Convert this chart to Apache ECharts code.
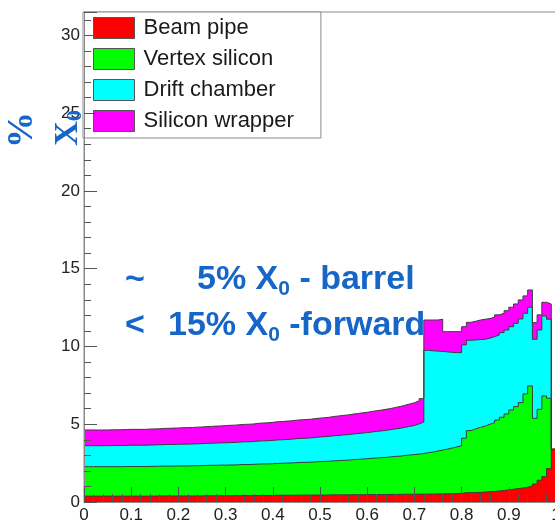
<!DOCTYPE html>
<html><head><meta charset="utf-8">
<script src="https://cdn.jsdelivr.net/npm/echarts@6/dist/echarts.min.js"></script>
<style>html,body{margin:0;padding:0;background:#fff}#c{width:555px;height:525px}</style>
</head><body><div id="c"></div>
<script>
// 100 bins of |cos(theta)|, width 0.01, from 0 to 1
const binWidth = 0.01;
const xMin = 0, xMax = 1, xInterval = 0.1;
const yMin = 0, yMax = 31.5, yInterval = 5;
const seriesNames = ['Beam pipe', 'Vertex silicon', 'Drift chamber', 'Silicon wrapper'];
const seriesColors = ['#ff0000', '#00ff00', '#00ffff', '#ff00ff'];

const beamPipe = [
  0.38,0.38,0.38,0.38,0.38,0.38,0.38,0.38,0.38,0.38,
  0.38,0.38,0.38,0.38,0.38,0.39,0.39,0.39,0.39,0.39,
  0.39,0.39,0.39,0.39,0.39,0.40,0.40,0.40,0.40,0.40,
  0.40,0.40,0.41,0.41,0.41,0.41,0.42,0.42,0.42,0.42,
  0.43,0.43,0.43,0.43,0.44,0.44,0.44,0.44,0.45,0.45,
  0.45,0.45,0.46,0.46,0.46,0.46,0.47,0.47,0.47,0.47,
  0.48,0.48,0.48,0.48,0.49,0.49,0.49,0.50,0.50,0.50,
  0.50,0.51,0.51,0.51,0.52,0.52,0.53,0.53,0.54,0.55,
  0.60,0.60,0.61,0.62,0.64,0.66,0.68,0.71,0.74,0.78,
  0.82,0.86,0.90,0.95,1.03,1.16,1.40,1.63,2.15,3.39
];
const vertexSilicon = [
  1.89,1.89,1.89,1.89,1.89,1.89,1.89,1.89,1.90,1.90,
  1.90,1.90,1.90,1.91,1.91,1.91,1.92,1.92,1.92,1.93,
  1.93,1.93,1.94,1.94,1.95,1.95,1.96,1.96,1.97,1.97,
  1.98,1.98,1.99,2.00,2.00,2.01,2.02,2.03,2.03,2.04,
  2.05,2.06,2.07,2.08,2.09,2.10,2.11,2.12,2.13,2.15,
  2.16,2.17,2.19,2.20,2.22,2.23,2.25,2.27,2.29,2.31,
  2.33,2.35,2.37,2.39,2.41,2.44,2.46,2.49,2.52,2.55,
  2.58,2.61,2.66,2.71,2.76,2.82,2.87,2.94,3.00,3.07,
  3.50,3.99,4.09,4.18,4.24,4.34,4.42,4.56,4.71,4.88,
  5.10,5.27,5.49,6.00,6.43,4.22,4.56,5.19,4.52,0
];
const driftChamber = [
  1.35,1.35,1.35,1.35,1.35,1.36,1.36,1.36,1.36,1.37,
  1.37,1.37,1.37,1.37,1.38,1.38,1.38,1.39,1.39,1.39,
  1.40,1.40,1.40,1.41,1.41,1.42,1.42,1.43,1.43,1.44,
  1.44,1.45,1.45,1.46,1.46,1.47,1.48,1.48,1.49,1.50,
  1.51,1.51,1.52,1.53,1.54,1.55,1.55,1.56,1.57,1.58,
  1.59,1.60,1.61,1.62,1.63,1.64,1.65,1.66,1.67,1.68,
  1.69,1.71,1.72,1.74,1.75,1.77,1.79,1.81,1.84,1.87,
  1.94,2.02,6.58,6.50,6.42,6.34,6.25,6.15,6.06,5.98,
  6.00,5.81,5.72,5.64,5.58,5.53,5.53,5.47,5.44,5.40,
  5.35,5.36,5.38,5.18,5.06,5.08,5.10,5.14,5.08,0
];
const siliconWrapper = [
  1.01,1.01,1.01,1.01,1.01,1.01,1.01,1.02,1.02,1.02,
  1.02,1.02,1.02,1.03,1.03,1.03,1.04,1.04,1.05,1.05,
  1.06,1.06,1.06,1.07,1.07,1.08,1.08,1.09,1.09,1.10,
  1.11,1.11,1.12,1.12,1.13,1.13,1.14,1.15,1.15,1.16,
  1.17,1.17,1.18,1.18,1.19,1.19,1.20,1.20,1.21,1.21,
  1.22,1.23,1.24,1.25,1.26,1.27,1.28,1.29,1.30,1.31,
  1.32,1.33,1.34,1.35,1.36,1.38,1.40,1.42,1.44,1.46,
  1.48,1.50,1.95,1.98,2.00,2.07,1.30,1.33,1.35,1.35,
  1.17,1.15,1.20,1.26,1.29,1.26,1.25,1.29,1.24,1.24,
  1.25,1.24,1.22,1.12,1.11,1.07,0.97,0.88,0.98,0
];
const layerValues = [beamPipe, vertexSilicon, driftChamber, siliconWrapper];

const blue = '#1666c8';
const sans = '"Liberation Sans", Arial, sans-serif';
const serif = '"Liberation Serif", "Times New Roman", serif';

// cumulative (stacked) tops, built from the layer arrays
const running = beamPipe.map(() => 0);
const stackedTops = layerValues.map(vals => vals.map((v, k) => (running[k] = +(running[k] + v).toFixed(4))));

function toSteps(vals) {
  const pts = vals.map((v, i) => [+(i * binWidth).toFixed(2), v]);
  pts.push([xMax, vals[vals.length - 1]]);
  return pts;
}

// draw the outermost layer first so inner layers paint over it
const drawOrder = [3, 2, 1, 0];

const chart = echarts.init(document.getElementById('c'), null, {renderer: 'canvas'});
chart.setOption({
  animation: false,
  backgroundColor: '#ffffff',
  grid: {left: 84, top: 12, width: 472, height: 490, outerBoundsMode: 'none', containLabel: false,
         show: true, borderColor: '#8a8a8a', borderWidth: 1, backgroundColor: 'transparent'},
  legend: {
    orient: 'vertical', left: 83, top: 12,
    padding: [5, 27, 6, 10],
    itemWidth: 41, itemHeight: 21, itemGap: 9,
    icon: 'rect',
    backgroundColor: '#ffffff', borderColor: '#8a8a8a', borderWidth: 1, borderRadius: 0,
    textStyle: {fontSize: 22, color: '#1a1a1a', fontFamily: sans, lineHeight: 21, padding: [0, 0, 0, 4]},
    data: seriesNames.map((n, i) => ({name: n, itemStyle: {color: seriesColors[i], borderColor: '#555', borderWidth: 1}}))
  },
  xAxis: {
    type: 'value', min: xMin, max: xMax, interval: xInterval, z: 5,
    axisLine: {show: true, onZero: false, lineStyle: {color: '#8a8a8a', width: 1}},
    axisTick: {show: true, inside: true, length: 15, lineStyle: {color: '#555'}},
    minorTick: {show: true, splitNumber: 5, length: 8, lineStyle: {color: '#555'}},
    splitLine: {show: false},
    axisLabel: {fontSize: 17, color: '#222', fontFamily: sans, margin: 5}
  },
  yAxis: {
    type: 'value', min: yMin, max: yMax, interval: yInterval, z: 5,
    axisLine: {show: true, lineStyle: {color: '#8a8a8a', width: 1}},
    axisTick: {show: true, inside: true, length: 13, lineStyle: {color: '#555'}},
    minorTick: {show: true, splitNumber: 5, length: 7, lineStyle: {color: '#555'}},
    splitLine: {show: false},
    axisLabel: {fontSize: 17, color: '#222', fontFamily: sans, margin: 4, showMaxLabel: false}
  },
  series: drawOrder.map(i => ({
    type: 'line', name: seriesNames[i], step: 'end',
    symbol: 'none', showSymbol: false,
    data: toSteps(stackedTops[i]),
    itemStyle: {color: seriesColors[i]},
    lineStyle: {color: '#3c3c3c', width: 1},
    areaStyle: {color: seriesColors[i], opacity: 1, origin: 'start'}
  })),
  graphic: [
    {type: 'text', x: 23, y: 130, rotation: Math.PI / 2, z: 100,
     style: {text: '%', font: 'bold 36px ' + serif, fill: blue, align: 'center', verticalAlign: 'middle'}},
    {type: 'text', x: 68, y: 128, rotation: Math.PI / 2, z: 100,
     style: {text: '{a|X}{s|0}', fill: blue, align: 'center', verticalAlign: 'middle',
       rich: {a: {fontSize: 34, fontWeight: 'bold', fontFamily: serif, fill: blue, lineHeight: 36},
              s: {fontSize: 22, fontWeight: 'bold', fontFamily: serif, fill: blue, lineHeight: 22, verticalAlign: 'bottom'}}}},
    {type: 'text', x: 125, y: 260, z: 100,
     style: {text: '{m|~}', fill: blue, verticalAlign: 'top',
       rich: {m: {fontSize: 34, fontWeight: 'bold', fontFamily: sans, fill: blue, lineHeight: 40}}}},
    {type: 'text', x: 197, y: 260, z: 100,
     style: {text: '{m|5% X}{s|0}{m| - barrel}', fill: blue, verticalAlign: 'top',
       rich: {m: {fontSize: 34, fontWeight: 'bold', fontFamily: sans, fill: blue, lineHeight: 40},
              s: {fontSize: 21, fontWeight: 'bold', fontFamily: sans, fill: blue, lineHeight: 21, verticalAlign: 'bottom'}}}},
    {type: 'text', x: 125, y: 306, z: 100,
     style: {text: '{m|<}', fill: blue, verticalAlign: 'top',
       rich: {m: {fontSize: 34, fontWeight: 'bold', fontFamily: sans, fill: blue, lineHeight: 40}}}},
    {type: 'text', x: 168, y: 306, z: 100,
     style: {text: '{m|15% X}{s|0}{m| -forward}', fill: blue, verticalAlign: 'top',
       rich: {m: {fontSize: 34, fontWeight: 'bold', fontFamily: sans, fill: blue, lineHeight: 40},
              s: {fontSize: 21, fontWeight: 'bold', fontFamily: sans, fill: blue, lineHeight: 21, verticalAlign: 'bottom'}}}}
  ]
});
</script>
</body></html>
